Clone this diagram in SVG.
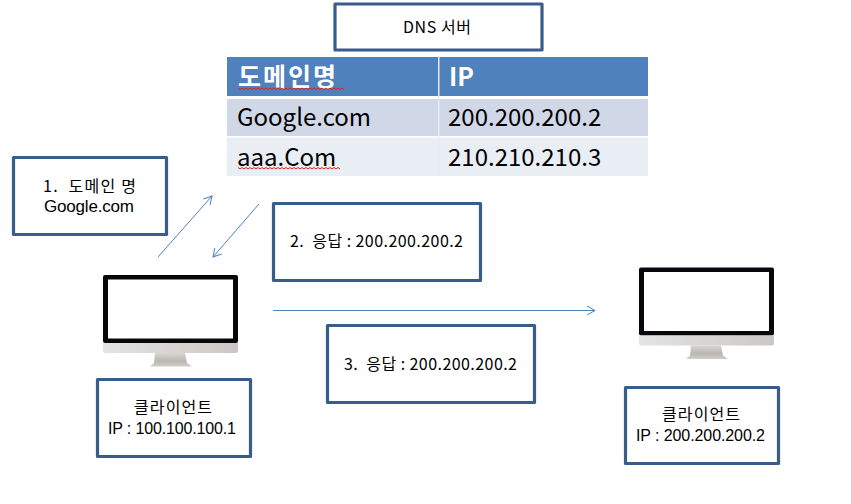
<svg xmlns="http://www.w3.org/2000/svg" width="851" height="504" viewBox="0 0 851 504">
<style>
text{font-family:"Noto Sans CJK KR","Noto Sans",sans-serif;fill:#000;font-size:16px;white-space:pre}
text.lat{font-family:"Liberation Sans",Arial,sans-serif}
.box{fill:#fff;stroke:#385d8a;stroke-width:3.200;stroke-linejoin:round}
.cell{font-size:24px}
.head{font-size:25px;fill:#fff;font-weight:700}
.conn{fill:none;stroke:#4f81bd;stroke-width:1;marker-end:url(#arr)}
.sq{fill:none;stroke:#e02020;stroke-width:1}
</style>
<defs>
<marker id="arr" markerUnits="userSpaceOnUse" markerWidth="14" markerHeight="14" refX="10" refY="7" orient="auto">
<path d="M2 2.500L10 7L2 11.500" fill="none" stroke="#4f81bd" stroke-width="1"/>
</marker>
<linearGradient id="chin" x1="0" y1="0" x2="1" y2="0"><stop offset="0" stop-color="#e5e4e3"/><stop offset="1" stop-color="#cbc7c4"/></linearGradient>
<linearGradient id="stand" x1="0" y1="0" x2="0" y2="1"><stop offset="0" stop-color="#d8d6d2"/><stop offset="0.6" stop-color="#b9b7b0"/><stop offset="1" stop-color="#d0cec9"/></linearGradient>
<g id="monitor">
<rect x="0" y="0" width="135" height="68" rx="2" fill="#08080c"/>
<rect x="5" y="4.500" width="125" height="59" fill="#fff"/>
<path d="M0 68H135V76a2 2 0 0 1-2 2H2a2 2 0 0 1-2-2Z" fill="url(#chin)"/>
<path d="M52 78H82L84 88L89 91.500H47L51 88Z" fill="url(#stand)"/>
</g>
</defs>
<g id="dns-server"><rect class="box" x="335" y="4" width="207" height="46"/><text x="403" y="33" textLength="68">DNS 서버</text></g>
<g id="dns-table">
<rect x="227" y="57" width="421" height="39" fill="#4f81bd"/>
<rect x="227" y="99" width="421" height="37" fill="#d0d8e8"/>
<rect x="227" y="137.500" width="421" height="38.500" fill="#e9edf4"/>
<rect x="438" y="57" width="1.500" height="119" fill="#e6ecf5"/>
<text class="head" x="238" y="86" textLength="98">도메인명</text><text class="head" x="449" y="86">IP</text>
<text class="cell" x="237" y="126">Google.com</text><text class="cell" x="448" y="126">200.200.200.2</text>
<text class="cell" x="237" y="166">aaa.Com</text><text class="cell" x="448" y="166">210.210.210.3</text>
<path class="sq" d="M238 88l2 1.500 2-1.500 2 1.500 2-1.500 2 1.500 2-1.500 2 1.500 2-1.500 2 1.500 2-1.500 2 1.500 2-1.500 2 1.500 2-1.500 2 1.500 2-1.500 2 1.500 2-1.500 2 1.500 2-1.500 2 1.500 2-1.500 2 1.500 2-1.500 2 1.500 2-1.500 2 1.500 2-1.500 2 1.500 2-1.500 2 1.500 2-1.500 2 1.500 2-1.500 2 1.500 2-1.500 2 1.500 2-1.500 2 1.500 2-1.500 2 1.500 2-1.500 2 1.500 2-1.500 2 1.500 2-1.500 2 1.500 2-1.500 2 1.500 2-1.500 2 1.500 2-1.500 2 1.500"/>
<path class="sq" d="M238 167.500l2 1.500 2-1.500 2 1.500 2-1.500 2 1.500 2-1.500 2 1.500 2-1.500 2 1.500 2-1.500 2 1.500 2-1.500 2 1.500 2-1.500 2 1.500 2-1.500 2 1.500 2-1.500 2 1.500 2-1.500 2 1.500 2-1.500 2 1.500 2-1.500 2 1.500 2-1.500 2 1.500 2-1.500 2 1.500 2-1.500 2 1.500 2-1.500 2 1.500 2-1.500 2 1.500 2-1.500 2 1.500 2-1.500 2 1.500 2-1.500 2 1.500 2-1.500 2 1.500 2-1.500 2 1.500 2-1.500 2 1.500 2-1.500 2 1.500 2-1.500 2 1.500"/>
</g>
<g id="step-1"><rect class="box" x="13.500" y="157.500" width="153" height="77"/><text x="43" y="191.500" textLength="93">1.  도메인 명</text><text class="lat" style="font-size:17px" x="44" y="212" textLength="90">Google.com</text></g>
<g id="step-2"><rect class="box" x="273.500" y="203.500" width="207" height="77"/><text x="290" y="247" textLength="173">2.  응답 : 200.200.200.2</text></g>
<g id="step-3"><rect class="box" x="327.500" y="325.500" width="207" height="77"/><text x="344" y="370" textLength="173">3.  응답 : 200.200.200.2</text></g>
<g id="client-1"><use href="#monitor" x="103" y="275"/><rect class="box" x="97.500" y="379.500" width="153" height="77"/><text x="134" y="413" textLength="78">클라이언트</text><text class="lat" x="108" y="434" textLength="128">IP : 100.100.100.1</text></g>
<g id="client-2"><use href="#monitor" x="639" y="267.500"/><rect class="box" x="625.500" y="387.500" width="153" height="76"/><text x="662" y="420" textLength="78">클라이언트</text><text class="lat" x="636" y="441" textLength="129">IP : 200.200.200.2</text></g>
<g id="connectors">
<path class="conn" d="M158 257L212 196"/>
<path class="conn" d="M259 204L213 257"/>
<path class="conn" d="M273 310.500H595"/>
</g>
</svg>
